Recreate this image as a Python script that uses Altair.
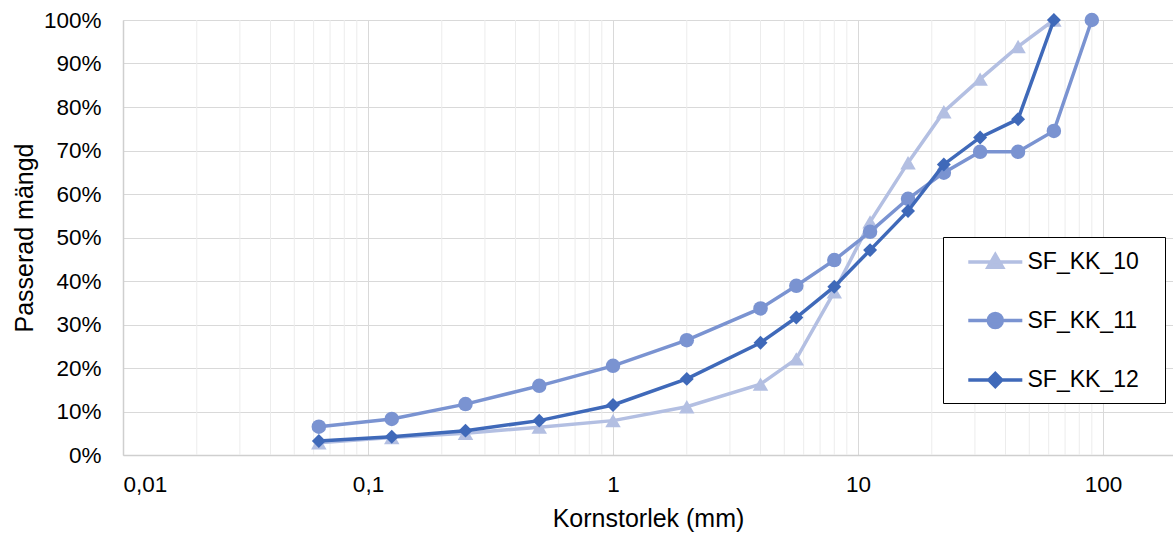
import altair as alt
import pandas as pd

# ---- data ----
sieve_mm = [0.063, 0.125, 0.25, 0.5, 1, 2, 4, 5.6, 8, 11.2, 16, 22.4, 31.5, 45, 63, 90]
sf_kk_10 = [2.8, 4.0, 5.0, 6.4, 7.9, 11.1, 16.3, 22.1, 37.5, 53.6, 67.2, 78.9, 86.4, 93.9, 100.0, None]
sf_kk_11 = [6.5, 8.3, 11.7, 15.9, 20.5, 26.4, 33.7, 38.9, 44.8, 51.3, 58.9, 64.9, 69.7, 69.7, 74.5, 100.0]
sf_kk_12 = [3.2, 4.2, 5.6, 7.9, 11.5, 17.5, 25.8, 31.6, 38.7, 47.1, 56.1, 66.8, 73.0, 77.2, 100.0, None]

series_names = ["SF_KK_10", "SF_KK_11", "SF_KK_12"]
series_colors = ["#B3BFE2", "#7A93D1", "#3F69B9"]
series_shapes = ["triangle-up", "circle", "diamond"]
marker_sizes = [240, 210, 195]

x_major_ticks = [0.01, 0.1, 1, 10, 100]
x_minor_grid = [m * d for d in [0.01, 0.1, 1, 10] for m in range(2, 10)]
y_ticks = [i / 10 for i in range(11)]

# legend glyphs: line segment + marker (custom SVG paths, unit = half symbol width)
legend_paths = [
    "M0.02,0L3.88,0M1.95,-0.52L2.47,0.38L1.43,0.38Z",
    "M0.02,0L3.88,0M1.45,0A0.5,0.5,0,1,1,2.45,0A0.5,0.5,0,1,1,1.45,0Z",
    "M0.02,0L3.88,0M1.49,0L1.95,-0.46L2.41,0L1.95,0.46Z",
]

rows = []
for name, vals in zip(series_names, [sf_kk_10, sf_kk_11, sf_kk_12]):
    for s, v in zip(sieve_mm, vals):
        if v is not None:
            rows.append({"size": s, "pct": v / 100.0, "series": name})
df = pd.DataFrame(rows)

FONT = "Liberation Sans"

xscale = alt.Scale(type="log", domain=[0.01, 193], nice=False)
yscale = alt.Scale(domain=[0, 1], nice=False)

x_axis = alt.Axis(
    values=x_major_ticks, title="Kornstorlek (mm)",
    labelExpr="replace(format(datum.value, '~g'), '.', ',')",
    labelPadding=18, titlePadding=11,
)
y_axis = alt.Axis(values=y_ticks, format=".0%", title="Passerad mängd",
                  labelPadding=22, titlePadding=6)

minor = alt.Chart(pd.DataFrame({"v": x_minor_grid})).mark_rule(
    color="#ECECEC", strokeWidth=1
).encode(x=alt.X("v:Q", scale=xscale, axis=x_axis))

series_layers = []
for name, col, shp, msz in zip(series_names, series_colors, series_shapes, marker_sizes):
    base = alt.Chart(df).transform_filter(alt.datum.series == name).encode(
        x=alt.X("size:Q", scale=xscale, axis=x_axis),
        y=alt.Y("pct:Q", scale=yscale, axis=y_axis),
    )
    series_layers.append(base.mark_line(strokeWidth=3.5, color=col))
    series_layers.append(
        base.mark_point(filled=True, opacity=1, size=msz, color=col, shape=shp)
    )

leg = alt.Legend(
    title=None, orient="none", legendX=820, legendY=217,
    labelFont=FONT, labelFontSize=23, labelColor="black",
    symbolSize=784, symbolStrokeWidth=3.5, symbolOpacity=1,
    labelOffset=43.5, padding=9, rowPadding=29.5,
    strokeColor="black", fillColor="white",
    labelExpr="datum.label + '\u2800'",
)
color_scale = alt.Scale(domain=series_names, range=series_colors)

legend_layer = alt.Chart(df).transform_filter("datum.pct > 2").mark_point(
    filled=True, strokeWidth=3.5, opacity=1
).encode(
    x=alt.X("size:Q", scale=xscale, axis=x_axis),
    y=alt.Y("pct:Q", scale=yscale, axis=y_axis),
    fill=alt.Fill("series:N", scale=color_scale, legend=leg),
    stroke=alt.Stroke("series:N", scale=color_scale, legend=leg),
    shape=alt.Shape("series:N", scale=alt.Scale(domain=series_names, range=legend_paths), legend=leg),
)

chart = (
    alt.layer(minor, *series_layers, legend_layer)
    .properties(
        width=1050, height=435,
        padding={"left": 123, "top": 20, "right": 0, "bottom": 84},
        autosize=alt.AutoSizeParams(type="none"),
    )
    .configure_view(stroke=None)
    .configure_axis(
        labelFont=FONT, titleFont=FONT, labelFontSize=22.5, titleFontSize=25,
        labelColor="black", titleColor="black", titleFontWeight="normal",
        gridColor="#D9D9D9", gridWidth=1, domainColor="#CFCFCF", domainWidth=1.5,
        ticks=False,
    )
)

chart.save("out.html", embed_options={"renderer": "svg", "actions": False})
